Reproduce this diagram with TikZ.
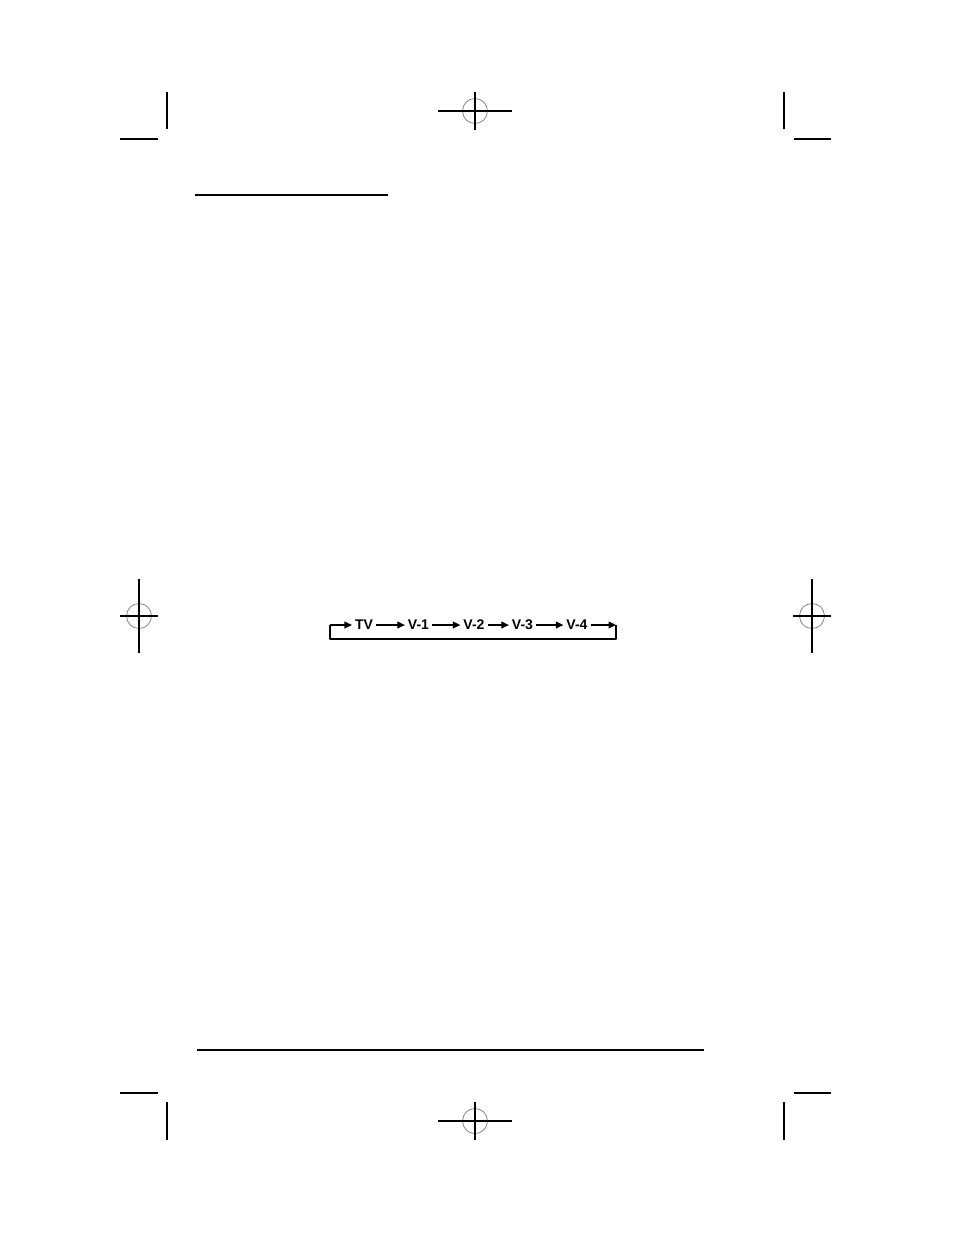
\documentclass[tikz,border=0pt]{standalone}
\usepackage{fontspec}
\setmainfont{Liberation Sans}
\usetikzlibrary{arrows.meta}
\tikzset{
	regline/.style={line width=0.8pt},
	regcirc/.style={gray,line width=0.5pt},
	rule/.style={line width=1.2pt},
	src/.style={inner sep=1.8pt,font=\bfseries\fontsize{9}{10}\selectfont}
}
\begin{document}
\begin{tikzpicture}[x=0.6415pt,y=-0.6415pt,line join=round,>={Triangle[length=4.8pt,width=4.4pt]}]
	\useasboundingbox (0,0) rectangle (954,1235);
	%% dau cat goc
	\draw[regline] (167,92)--(167,129) (120,139)--(158,139);
	\draw[regline] (784,92)--(784,129) (794,139)--(831,139);
	\draw[regline] (167,1102)--(167,1140) (120,1093)--(158,1093);
	\draw[regline] (784,1102)--(784,1140) (794,1093)--(831,1093);
	%% dau chu thap
	\foreach \x/\y/\a/\b in {475/111/37/19,475/1121/37/19,139/616/19/37,812/616/19/37}
	{\draw[regcirc] (\x,\y) circle (12.5);
	\draw[regline] (\x-\a,\y)--(\x+\a,\y) (\x,\y-\b)--(\x,\y+\b);}
	%% duong ke
	\draw[rule] (195,195)--(388,195);
	\draw[rule] (197,1050)--(704,1050);
	%% chuoi nguon
	\path
	(330,625) coordinate (s)
	(616,625) coordinate (e)
	;
	\node[src] (tv) at (364,625) {TV};
	\node[src] (va) at (418.5,625) {V-1};
	\node[src] (vb) at (474,625) {V-2};
	\node[src] (vc) at (522.5,625) {V-3};
	\node[src] (vd) at (577,625) {V-4};
	\draw[regline,->] (s)--(tv);
	\draw[regline,->] (tv)--(va);
	\draw[regline,->] (va)--(vb);
	\draw[regline,->] (vb)--(vc);
	\draw[regline,->] (vc)--(vd);
	\draw[regline,->] (vd)--(e);
	\draw[regline] (e)--++(0,14)-|(s);
\end{tikzpicture}
\end{document}
